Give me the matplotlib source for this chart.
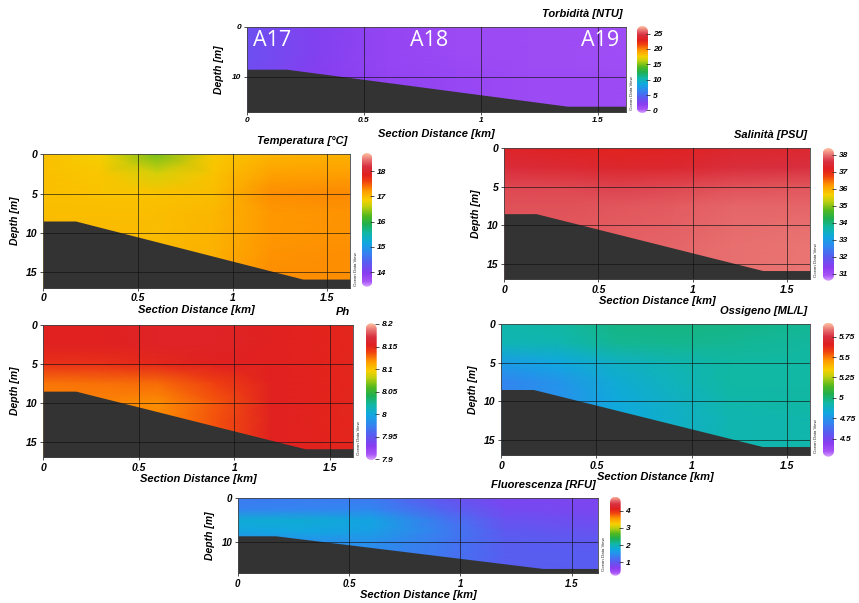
import numpy as np
import matplotlib
matplotlib.use("Agg")
import matplotlib.pyplot as plt
from matplotlib.colors import LinearSegmentedColormap
from matplotlib.transforms import offset_copy
from matplotlib.patches import Polygon

plt.rcParams["font.family"] = ["Liberation Sans", "DejaVu Sans"]
plt.rcParams["font.weight"] = "bold"
plt.rcParams["font.style"] = "italic"

W, H = 859, 603

# ---------------------------------------------------------------- data
dist_km = [0.0, 0.3, 0.6, 0.9, 1.2, 1.62]
depth_m = [0, 2.5, 5, 7.5, 10, 12.5, 15, 17]

floor_km = [0.0, 0.17, 1.37, 1.62]
floor_m = [8.5, 8.5, 15.9, 15.9]

stations = ["A17", "A18", "A19"]
station_km = [0.11, 0.78, 1.51]

# rows follow depth_m, columns follow dist_km
turbidity = [
    [3.4, 2.4, 1.4, 1.1, 1.0, 0.9],
    [3.4, 2.4, 1.4, 1.1, 1.0, 0.9],
    [3.4, 2.4, 1.4, 1.1, 1.0, 0.9],
    [3.3, 2.3, 1.4, 1.2, 1.0, 0.9],
    [3.2, 2.2, 1.5, 1.3, 1.1, 1.0],
    [3.2, 2.2, 1.6, 1.3, 1.1, 1.0],
    [3.2, 2.2, 1.6, 1.3, 1.1, 1.0],
    [3.2, 2.2, 1.6, 1.3, 1.1, 1.0],
]
temperature = [
    [16.97, 16.85, 16.35, 16.90, 17.05, 17.08],
    [16.97, 16.92, 16.70, 16.96, 17.18, 17.20],
    [16.98, 16.96, 16.95, 17.00, 17.28, 17.30],
    [16.99, 16.99, 16.99, 17.03, 17.25, 17.27],
    [17.02, 17.02, 17.00, 17.05, 17.25, 17.27],
    [17.05, 17.05, 17.03, 17.08, 17.27, 17.28],
    [17.05, 17.05, 17.05, 17.10, 17.28, 17.28],
    [17.05, 17.05, 17.05, 17.10, 17.28, 17.28],
]
salinity = [
    [37.30, 37.20, 37.10, 37.20, 37.35, 37.40],
    [37.50, 37.45, 37.35, 37.40, 37.55, 37.60],
    [37.75, 37.75, 37.72, 37.75, 37.83, 37.85],
    [37.83, 37.83, 37.85, 37.88, 37.93, 37.95],
    [37.85, 37.85, 37.88, 37.92, 37.98, 38.00],
    [37.87, 37.87, 37.92, 37.95, 38.00, 38.02],
    [37.87, 37.87, 37.92, 37.96, 38.00, 38.02],
    [37.87, 37.87, 37.92, 37.96, 38.00, 38.02],
]
ph = [
    [8.152, 8.152, 8.156, 8.156, 8.152, 8.150],
    [8.152, 8.152, 8.156, 8.156, 8.152, 8.150],
    [8.145, 8.145, 8.149, 8.152, 8.152, 8.150],
    [8.125, 8.126, 8.128, 8.138, 8.152, 8.150],
    [8.122, 8.122, 8.119, 8.132, 8.152, 8.150],
    [8.122, 8.122, 8.120, 8.134, 8.152, 8.150],
    [8.122, 8.122, 8.120, 8.134, 8.152, 8.150],
    [8.122, 8.122, 8.120, 8.134, 8.152, 8.150],
]
oxygen = [
    [4.93, 4.94, 4.98, 4.99, 4.98, 4.96],
    [4.91, 4.92, 4.96, 4.97, 4.96, 4.95],
    [4.78, 4.82, 4.88, 4.92, 4.94, 4.94],
    [4.70, 4.75, 4.85, 4.90, 4.94, 4.94],
    [4.70, 4.74, 4.83, 4.88, 4.93, 4.94],
    [4.70, 4.74, 4.83, 4.87, 4.92, 4.93],
    [4.70, 4.74, 4.83, 4.87, 4.92, 4.93],
    [4.70, 4.74, 4.83, 4.87, 4.92, 4.93],
]
fluorescence = [
    [1.30, 1.32, 1.30, 1.00, 0.80, 0.78],
    [1.38, 1.40, 1.42, 1.12, 0.85, 0.80],
    [1.80, 1.80, 1.70, 1.30, 0.95, 0.88],
    [1.70, 1.72, 1.65, 1.35, 1.02, 0.95],
    [1.45, 1.50, 1.50, 1.30, 1.08, 1.02],
    [1.40, 1.45, 1.45, 1.28, 1.08, 1.05],
    [1.40, 1.45, 1.45, 1.28, 1.08, 1.05],
    [1.40, 1.45, 1.45, 1.28, 1.08, 1.05],
]

titles = ["Torbidità [NTU]", "Temperatura [°C]", "Salinità [PSU]",
          "Ph", "Ossigeno [ML/L]", "Fluorescenza [RFU]"]
color_ranges = [(-0.84, 27.45), (13.42, 18.72), (30.6, 38.41),
                (7.8985, 8.2015), (4.28, 5.92), (0.22, 4.81)]
color_ticks = [[0, 5, 10, 15, 20, 25], [14, 15, 16, 17, 18],
               [31, 32, 33, 34, 35, 36, 37, 38],
               [7.9, 7.95, 8.0, 8.05, 8.1, 8.15, 8.2],
               [4.5, 4.75, 5.0, 5.25, 5.5, 5.75], [1, 2, 3, 4]]
color_tick_labels = [["0", "5", "10", "15", "20", "25"],
                     ["14", "15", "16", "17", "18"],
                     ["31", "32", "33", "34", "35", "36", "37", "38"],
                     ["7.9", "7.95", "8", "8.05", "8.1", "8.15", "8.2"],
                     ["4.5", "4.75", "5", "5.25", "5.5", "5.75"],
                     ["1", "2", "3", "4"]]

# ------------------------------------------------------------- palette
odv = LinearSegmentedColormap.from_list("odv", [
    (0.00, "#d8a0ff"), (0.04, "#a855f7"), (0.10, "#8a3cf0"),
    (0.18, "#5a5cf0"), (0.26, "#3088f0"), (0.33, "#10a8e0"),
    (0.40, "#10b8a8"), (0.47, "#20b050"), (0.53, "#50b820"),
    (0.60, "#c0d010"), (0.65, "#f8d000"), (0.72, "#ff9a00"),
    (0.79, "#f04010"), (0.84, "#e02020"), (0.90, "#d83040"),
    (0.95, "#e87070"), (1.00, "#ffc0a0")])

fig = plt.figure(figsize=(W / 100, H / 100), dpi=100)


def px_rect(x0, y0, x1, y1):
    return [x0 / W, 1 - y1 / H, (x1 - x0) / W, (y1 - y0) / H]


def px_text(ax, x, y, dx, dy, s, **kw):
    tr = offset_copy(ax.transAxes, fig=fig, x=dx, y=dy, units="dots")
    return ax.text(x, y, s, transform=tr, **kw)


def section(ax_px, cb_px, field, title, crange, cticks, clabels,
            yticks, tick_fs):
    vmin, vmax = crange
    ax = fig.add_axes(px_rect(*ax_px))
    X, Y = np.meshgrid(dist_km, depth_m)
    ax.pcolormesh(X, Y, np.array(field), shading="gouraud", cmap=odv,
                  vmin=vmin, vmax=vmax, zorder=1)
    ax.fill_between(floor_km, floor_m, 20, color="#333333", lw=0,
                    zorder=2)
    for xv in [0.5, 1.0, 1.5]:
        ax.axvline(xv, color="#111111", lw=0.6, alpha=0.75, zorder=3)
    for yv in yticks[1:]:
        ax.axhline(yv, color="#111111", lw=0.6, alpha=0.75, zorder=3)
    ax.set_xlim(0, 1.62)
    ax.set_ylim(17, 0)
    ax.set_xticks([0, 0.5, 1, 1.5], ["0", "0.5", "1", "1.5"])
    ax.set_yticks(yticks, [str(v) for v in yticks])
    ax.tick_params(length=2, width=0.6, pad=2, labelsize=tick_fs,
                   color="#333333")
    for sp in ax.spines.values():
        sp.set_linewidth(0.6)
        sp.set_color("#444444")
    px_text(ax, 0.5, 0, 0, -22, "Section Distance [km]", fontsize=8,
            ha="center", va="center")
    px_text(ax, 0, 0.5, -28, 0, "Depth [m]", fontsize=7.5, rotation=90,
            ha="center", va="center")
    px_text(ax, 1, 1, -3, 13, title, fontsize=8, ha="right", va="center")
    px_text(ax, 1, 0, 6, 2, "Ocean Data View", fontsize=3.2,
            rotation=90, ha="center", va="bottom", fontweight="normal",
            fontstyle="normal", color="#222222")

    cax = fig.add_axes(px_rect(*cb_px))
    grad = np.linspace(vmin, vmax, 256).reshape(-1, 1)
    im = cax.imshow(grad, aspect="auto", cmap=odv, vmin=vmin, vmax=vmax,
                    extent=[0, 1, vmin, vmax], origin="lower")
    wpx = cb_px[2] - cb_px[0]
    hpx = cb_px[3] - cb_px[1]
    ry = 0.5 * wpx / hpx
    t = np.linspace(0, np.pi, 30)
    top = np.column_stack([0.5 + 0.5 * np.cos(t), 1 - ry + ry * np.sin(t)])
    bot = np.column_stack([0.5 - 0.5 * np.cos(t), ry - ry * np.sin(t)])
    clip = Polygon(np.vstack([top, bot]), closed=True,
                   transform=cax.transAxes, facecolor="none",
                   edgecolor="none")
    cax.add_patch(clip)
    im.set_clip_path(clip)
    cax.set_xlim(0, 1)
    cax.set_ylim(vmin, vmax)
    cax.set_xticks([])
    cax.yaxis.tick_right()
    cax.set_yticks(cticks, clabels)
    cax.tick_params(axis="y", length=3, width=0.6, direction="inout",
                    pad=2, labelsize=6, color="#333333")
    for sp in cax.spines.values():
        sp.set_visible(False)
    return ax


ax_t = section((246.7, 26.7, 626, 111.7), (636.7, 26, 648, 113),
               turbidity, titles[0], color_ranges[0], color_ticks[0],
               color_tick_labels[0], [0, 10], 6)
for name, xk in zip(stations, station_km):
    ax_t.text(xk, 2.7, name, color="white", fontsize=15.5, ha="center",
              va="center", family=["Open Sans", "DejaVu Sans"],
              fontweight="normal", fontstyle="normal", zorder=5)

section((43.3, 154.3, 350, 287.7), (361.7, 153, 372.3, 286.7),
        temperature, titles[1], color_ranges[1], color_ticks[1],
        color_tick_labels[1], [0, 5, 10, 15], 7.5)
section((504, 148.3, 810, 279), (822.7, 148, 834, 280.7),
        salinity, titles[2], color_ranges[2], color_ticks[2],
        color_tick_labels[2], [0, 5, 10, 15], 7.5)
section((43.3, 325, 352.7, 457.3), (365.7, 323.3, 376.7, 460),
        ph, titles[3], color_ranges[3], color_ticks[3],
        color_tick_labels[3], [0, 5, 10, 15], 7.5)
section((501, 324, 810, 455), (822.7, 322.7, 834, 456.7),
        oxygen, titles[4], color_ranges[4], color_ticks[4],
        color_tick_labels[4], [0, 5, 10, 15], 7.5)
section((237.7, 498.3, 598.3, 573.3), (610, 496.7, 620.7, 575.7),
        fluorescence, titles[5], color_ranges[5], color_ticks[5],
        color_tick_labels[5], [0, 10], 7)

fig.savefig("out.png", dpi=100)
